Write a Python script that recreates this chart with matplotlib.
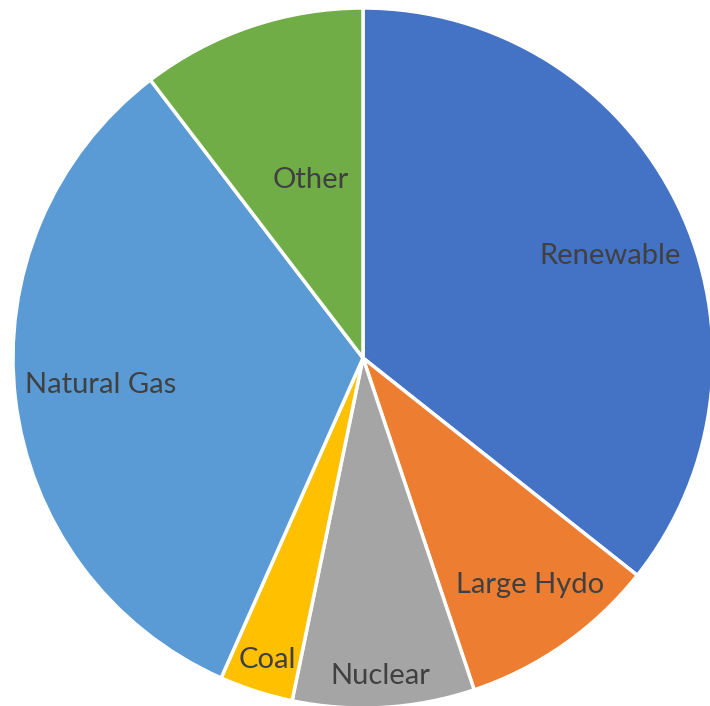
import matplotlib
matplotlib.use("Agg")
import matplotlib.pyplot as plt
import numpy as np

categories = ["Renewable", "Large Hydo", "Nuclear", "Coal", "Natural Gas", "Other"]
values = [35.7, 9.2, 8.4, 3.4, 33.0, 10.4]
colors = ["#4472C4", "#ED7D31", "#A5A5A5", "#FFC000", "#5B9BD5", "#70AD47"]
label_radius = [0.763, 0.805, 0.91, 0.905, 0.755, 0.53]
label_angle_offset = [-3.4, 1.3, -0.3, 0.2, -0.8, -2.4]

W, H = 710, 706
cx, cy, R = 363, 358, 350

fig = plt.figure(figsize=(W / 100, H / 100), dpi=100)
ax = fig.add_axes([0, 0, 1, 1])
wedges, _ = ax.pie(values, colors=colors, startangle=90, counterclock=False,
                   wedgeprops=dict(edgecolor="white", linewidth=2.5))
for w, lab, rf, off in zip(wedges, categories, label_radius, label_angle_offset):
    ang = np.deg2rad((w.theta1 + w.theta2) / 2 + off)
    ax.text(rf * np.cos(ang), rf * np.sin(ang), lab, ha="center", va="center",
            fontsize=21, color="#404040", family="Lato")
ax.set_xlim(-cx / R, (W - cx) / R)
ax.set_ylim(-(H - cy) / R, cy / R)
ax.set_aspect("auto")
ax.axis("off")
fig.savefig("out.png", dpi=100)
